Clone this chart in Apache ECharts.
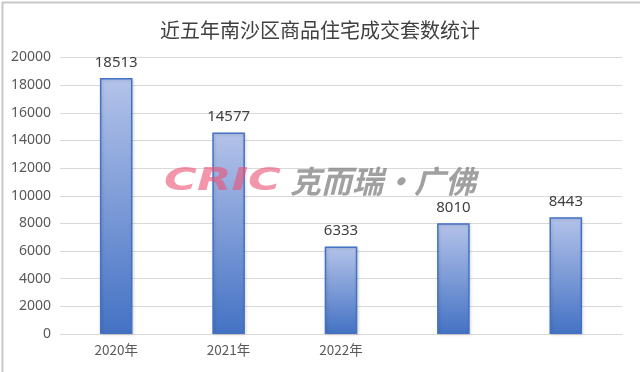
<!DOCTYPE html>
<html><head><meta charset="utf-8">
<script src="https://cdn.jsdelivr.net/npm/echarts@6/dist/echarts.min.js"></script>
<style>html,body{margin:0;padding:0;background:#fff}#c{width:640px;height:372px}</style>
</head><body><div id="c"></div>
<script>
var title = '近五年南沙区商品住宅成交套数统计';
var categories = ['2020年', '2021年', '2022年', '2023年', '2024年'];
var shownLabels = ['2020年', '2021年', '2022年', '', ''];
var values = [18513, 14577, 6333, 8010, 8443];
var yTicks = [0, 2000, 4000, 6000, 8000, 10000, 12000, 14000, 16000, 18000, 20000];

var chart = echarts.init(document.getElementById('c'));
chart.setOption({
  animation: false,
  backgroundColor: '#fff',
  title: {
    text: title, left: 'center', top: 15,
    textStyle: {fontFamily: 'Noto Sans CJK SC', fontSize: 20, fontWeight: 'normal', color: '#404040'}
  },
  grid: {left: 60, right: 18, top: 57.5, bottom: 38},
  xAxis: {
    type: 'category', data: categories,
    axisLine: {lineStyle: {color: '#d9d9d9'}}, axisTick: {show: false},
    axisLabel: {color: '#595959', fontSize: 13.5, fontFamily: 'Noto Sans CJK SC', margin: 9,
      formatter: function (v, i) { return shownLabels[i]; }}
  },
  yAxis: {
    type: 'value', min: yTicks[0], max: yTicks[yTicks.length - 1], interval: 2000,
    axisLine: {show: false}, axisTick: {show: false},
    splitLine: {lineStyle: {color: '#d9d9d9', width: 1}},
    axisLabel: {color: '#595959', fontSize: 14, fontFamily: 'Noto Sans', margin: 9,
      formatter: function (v) { return String(v); }}
  },
  series: [{
    type: 'bar', data: values, barWidth: '29%',
    itemStyle: {
      color: new echarts.graphic.LinearGradient(0, 0, 0, 1, [
        {offset: 0, color: '#b4c3e9'}, {offset: 1, color: '#4472c4'}]),
      borderColor: '#4472c4', borderWidth: 1.5,
      shadowColor: 'rgba(0,0,0,0.15)', shadowBlur: 3, shadowOffsetX: 1, shadowOffsetY: 1
    },
    label: {show: true, position: 'top', distance: 8, color: '#404040', fontSize: 15, fontFamily: 'Noto Sans'}
  }],
  graphic: [
    {type: 'rect', left: 0, top: 0, z: 100, silent: true,
      shape: {width: 639, height: 371}, style: {fill: 'none', stroke: '#c8c8c8', lineWidth: 2}},
    {type: 'text', left: 164, top: 166, z: 50, silent: true, scaleX: 1.4,
      style: {text: 'CRIC', fill: 'rgba(236,80,115,0.6)', font: 'italic bold 32px "DejaVu Sans"'}},
    {type: 'text', left: 290, top: 166, z: 50, silent: true,
      style: {text: '克而瑞·广佛', fill: 'rgba(128,128,128,0.75)', font: 'italic bold 31px "Noto Sans CJK SC"'}}
  ]
});
</script></body></html>
